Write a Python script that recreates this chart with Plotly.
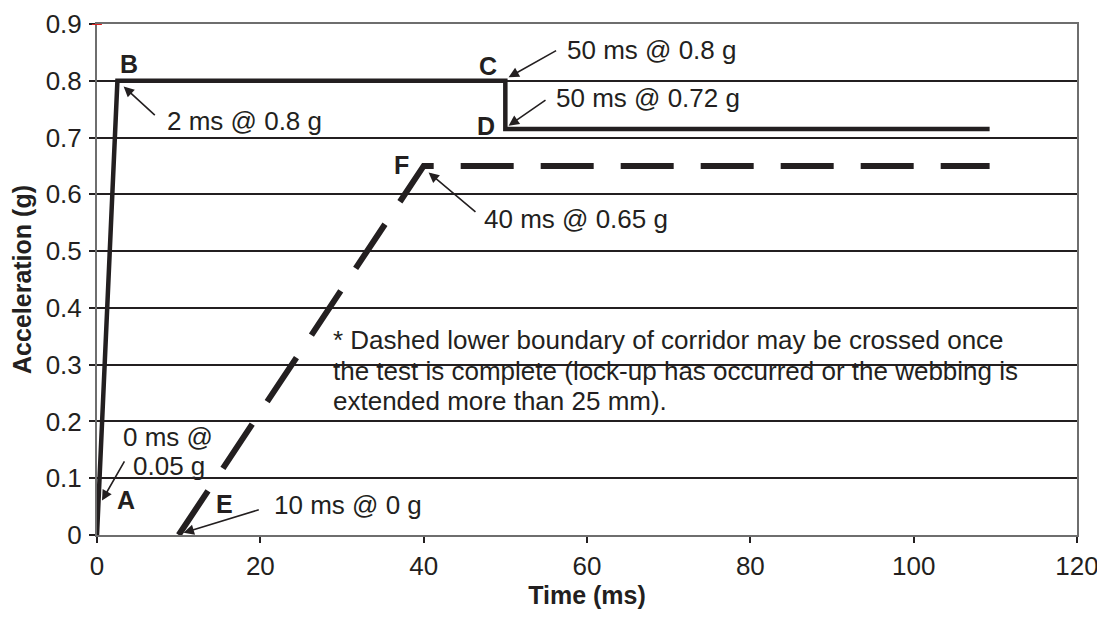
import plotly.graph_objects as go

# ---- data ----
upper_t = [0, 2.5, 50, 50, 109.3]          # ms
upper_g = [0, 0.8, 0.8, 0.715, 0.715]      # g
lower_t = [10, 40, 109.3]
lower_g = [0, 0.65, 0.65]

x_ticks = [0, 20, 40, 60, 80, 100, 120]
y_ticks = [0, 0.1, 0.2, 0.3, 0.4, 0.5, 0.6, 0.7, 0.8, 0.9]
y_tick_labels = ["0", "0.1", "0.2", "0.3", "0.4", "0.5", "0.6", "0.7", "0.8", "0.9"]

# point labels: (text, x, y)
point_labels = [("B", 3.95, 0.830), ("C", 47.92, 0.826), ("D", 47.6, 0.720),
                ("F", 37.26, 0.651), ("A", 3.59, 0.061), ("E", 15.65, 0.054)]
# callouts: text, text x, text y, arrow tip x, tip y, ax, ay (px)
callouts = [
    ("2 ms @ 0.8 g", 8.36, 0.729, 3.26, 0.790, 32.7, 30),
    ("50 ms @ 0.8 g", 57.34, 0.855, 50.4, 0.806, 49, -27.6),
    ("50 ms @ 0.72 g", 55.9, 0.770, 50.4, 0.721, 38.4, -26.6),
    ("40 ms @ 0.65 g", 47.14, 0.557, 40.6, 0.6386, 48.4, 40.7),
    ("10 ms @ 0 g", 21.43, 0.052, 10.6, 0.004, 76.7, -23.4),
]
a_label_lines = [("0 ms @", 8.73, 0.173), ("0.05 g", 8.85, 0.121)]
a_arrow = (0.61, 0.0606, 23.3, -40.7)
note_lines = [
    "* Dashed lower boundary of corridor may be crossed once",
    "the test is complete (lock-up has occurred or the webbing is",
    "extended more than 25 mm).",
]
note_x = 28.6
note_y = [0.3427, 0.289, 0.2354]

INK = "#231f20"
FONT = "Liberation Sans, Arial, sans-serif"
FS = 26

fig = go.Figure()
fig.add_trace(go.Scatter(x=upper_t, y=upper_g, mode="lines",
                         line=dict(color=INK, width=4.5), showlegend=False,
                         hoverinfo="skip"))
fig.add_trace(go.Scatter(x=lower_t, y=lower_g, mode="lines",
                         line=dict(color=INK, width=6, dash="53px,27px"),
                         showlegend=False, hoverinfo="skip"))

ann = []
for t, x, y in point_labels:
    ann.append(dict(x=x, y=y, text="<b>%s</b>" % t, showarrow=False,
                    xanchor="center", yanchor="middle",
                    font=dict(family=FONT, size=FS - 1, color=INK)))
for t, x, y, tx, ty, ax, ay in callouts:
    ann.append(dict(x=x, y=y, text=t, showarrow=False, xanchor="left",
                    yanchor="middle", font=dict(family=FONT, size=FS, color=INK)))
    ann.append(dict(x=tx, y=ty, text="", showarrow=True, ax=ax, ay=ay,
                    arrowhead=2, arrowsize=1.3, arrowwidth=1.6,
                    arrowcolor=INK, standoff=0))
for t, x, y in a_label_lines:
    ann.append(dict(x=x, y=y, text=t, showarrow=False, xanchor="center",
                    yanchor="middle", font=dict(family=FONT, size=FS, color=INK)))
ann.append(dict(x=a_arrow[0], y=a_arrow[1], text="", showarrow=True,
                ax=a_arrow[2], ay=a_arrow[3], arrowhead=2, arrowsize=1.3,
                arrowwidth=1.6, arrowcolor=INK, standoff=0))
for t, y in zip(note_lines, note_y):
    ann.append(dict(x=note_x, y=y, text=t, showarrow=False, xanchor="left",
                    yanchor="middle", font=dict(family=FONT, size=FS, color=INK)))

fig.update_layout(
    width=1105, height=622,
    margin=dict(l=89, r=36, t=16, b=95),
    paper_bgcolor="white", plot_bgcolor="white",
    annotations=ann,
    shapes=[dict(type="line", xref="x domain", yref="y", x0=-0.0052, x1=0.005,
                 y0=0.9, y1=0.9, line=dict(color="#e02020", width=2))],
    font=dict(family=FONT, size=FS, color=INK),
)
fig.update_xaxes(range=[0, 120], tickvals=x_ticks, ticks="outside", ticklen=6,
                 tickwidth=2, tickcolor=INK, showgrid=False, zeroline=False,
                 showline=True, linecolor="#6e6e6e", linewidth=2, mirror=True,
                 automargin=False, ticklabelstandoff=1, ticklabeloverflow="allow",
                 tickfont=dict(family=FONT, size=FS, color=INK),
                 title=dict(text="<b>Time (ms)</b>", standoff=6,
                            font=dict(family=FONT, size=FS - 1, color=INK)))
fig.update_yaxes(range=[0, 0.9], tickvals=y_ticks, ticktext=y_tick_labels,
                 ticks="outside", ticklen=6, tickwidth=2, tickcolor=INK,
                 showgrid=True, gridcolor=INK, gridwidth=2, zeroline=False,
                 showline=True, linecolor="#6e6e6e", linewidth=2, mirror=True,
                 automargin=False, ticklabelstandoff=2, ticklabeloverflow="allow",
                 tickfont=dict(family=FONT, size=FS, color=INK),
                 title=dict(text="<b>Acceleration (g)</b>", standoff=18,
                            font=dict(family=FONT, size=FS - 1, color=INK)))

fig.write_html("out.html")
